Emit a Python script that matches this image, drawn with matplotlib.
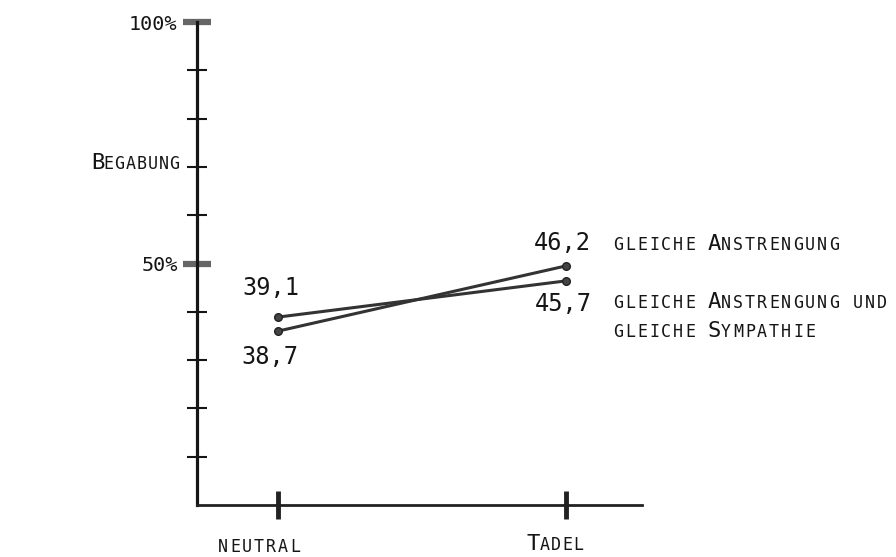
import matplotlib.pyplot as plt

# Werte (so wie eingezeichnet) und Beschriftungen
conditions = ["neutral", "Tadel"]
anstrengung = [36.0, 49.5]              # gleiche Anstrengung
anstr_sympathie = [38.9, 46.4]          # gleiche Anstrengung und gleiche Sympathie
anstrengung_labels = ["38,7", "46,2"]
anstr_sympathie_labels = ["39,1", "45,7"]
y_major = [50, 100]
y_major_labels = ["50%", "100%"]
y_minor = [10, 20, 30, 40, 60, 70, 80, 90]

W, H = 896, 557
MONO = "DejaVu Sans Mono"
INK = "#151515"

fig = plt.figure(figsize=(W / 100, H / 100), dpi=100)
ax = fig.add_axes([197 / W, 52 / H, (642 - 197) / W, (505 - 22) / H])


def caps(x, y, s, pitch=12.0, big=16, small=12, ha="left"):
    # Kapitälchen in Schreibmaschinenart, x/y in Figur-Pixeln (Grundlinie)
    n = len(s)
    if ha == "center":
        x0 = x - pitch * (n - 1) / 2
    else:
        x0 = x + pitch / 2
    for i, ch in enumerate(s):
        if ch == " ":
            continue
        size = big if ch.isupper() else small
        fig.text((x0 + i * pitch) / W, y / H, ch.upper(), fontsize=size,
                 ha="center", va="baseline", family=MONO, color=INK)


x = list(range(len(conditions)))
for vals in (anstrengung, anstr_sympathie):
    ax.plot(x, vals, color="#333333", lw=2.2, marker="o", ms=5.5,
            mfc="#444444", mec="#222222", solid_capstyle="round")

offsets_a = [(-8, -26), (-4, 23)]
offsets_b = [(-7, 29), (-3, -23)]
for vals, labels, offs in ((anstrengung, anstrengung_labels, offsets_a),
                           (anstr_sympathie, anstr_sympathie_labels, offsets_b)):
    for xi, v, lab, off in zip(x, vals, labels, offs):
        ax.annotate(lab, (xi, v), xytext=off, textcoords="offset pixels",
                    ha="center", va="center", fontsize=17, family=MONO, color=INK)

ax.set_xlim(-0.281, 1.264)
ax.set_ylim(0, 100)
for side in ("top", "right"):
    ax.spines[side].set_visible(False)
ax.spines["left"].set_linewidth(2.3)
ax.spines["left"].set_color(INK)
ax.spines["bottom"].set_linewidth(2.0)
ax.spines["bottom"].set_color("#222222")

ax.set_yticks(y_major)
ax.set_yticklabels(y_major_labels, family=MONO, fontsize=14.5, color=INK)
ax.set_yticks(y_minor, minor=True)
ax.tick_params(axis="y", which="major", direction="inout", length=20, width=4.5,
               color="#666666", pad=4)
ax.tick_params(axis="y", which="minor", direction="inout", length=14, width=1.5,
               color=INK)
ax.set_xticks(x)
ax.set_xticklabels(["", ""])
ax.tick_params(axis="x", direction="inout", length=20, width=3.5, color="#222222")

# Achsen- und Kategorietexte
caps(92, 388, "Begabung", pitch=11.0)
caps(259, 5, "neutral", ha="center")
caps(556, 7, "Tadel", pitch=11.2, ha="center")

# Reihenbeschriftungen
caps(612, 307, "gleiche Anstrengung")
caps(612, 249, "gleiche Anstrengung und")
caps(612, 220, "gleiche Sympathie")

fig.savefig("out.png", dpi=100)
